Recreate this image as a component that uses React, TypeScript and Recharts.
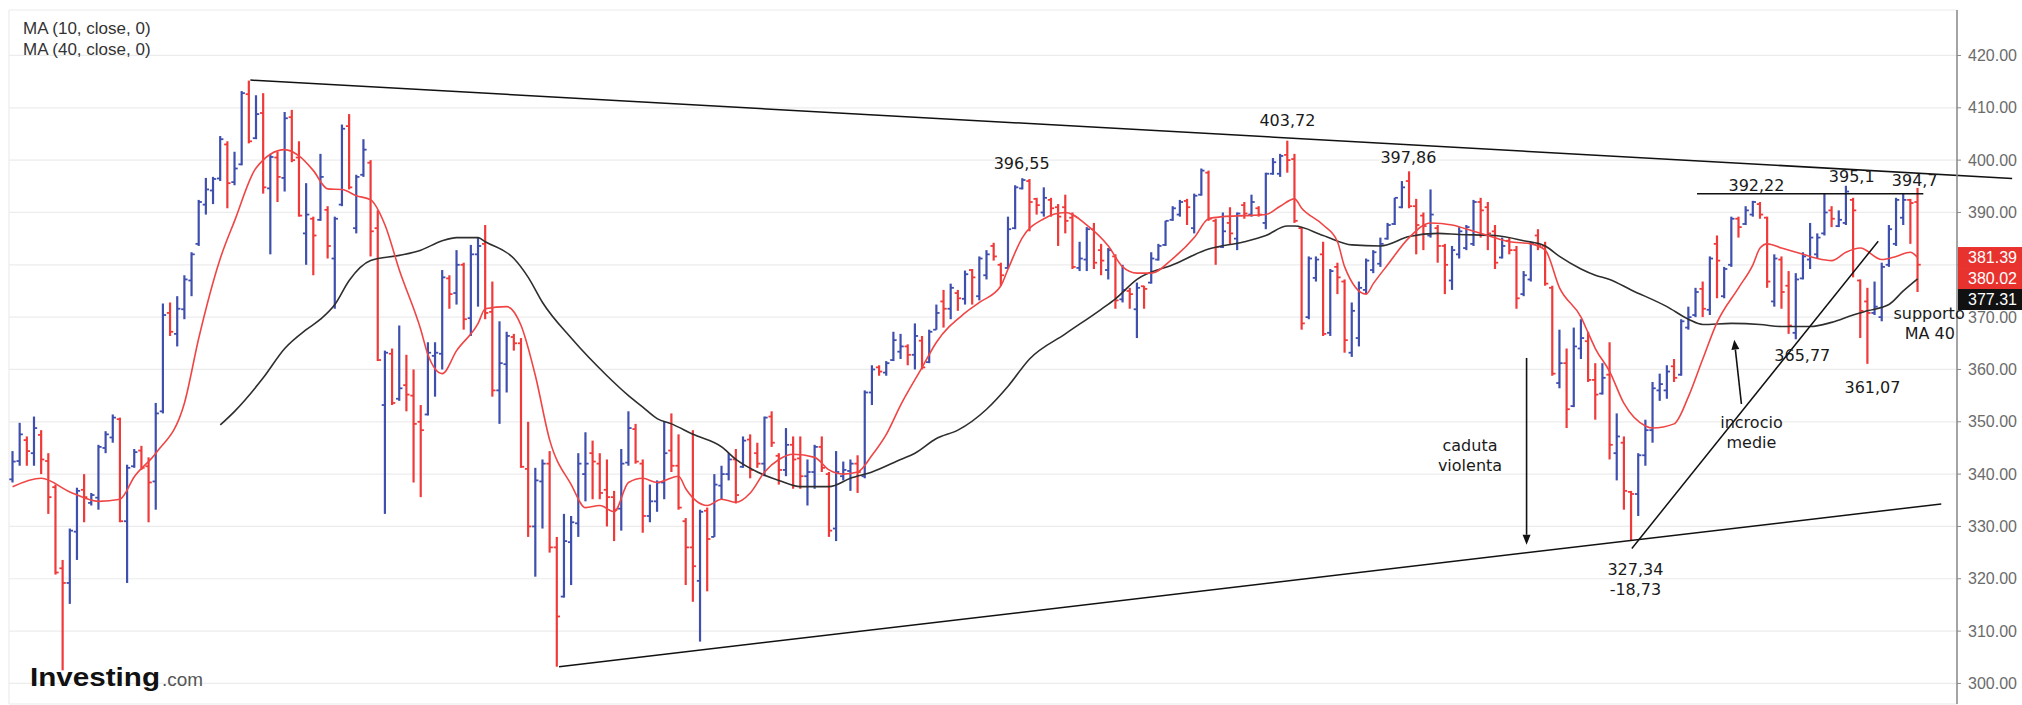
import React from 'react';
import { ComposedChart, Bar, Line, XAxis, YAxis, CartesianGrid, ReferenceLine, ReferenceDot } from 'recharts';

const opens = [
  339.0, 342.5, 346.5, 344.0, 347.5, 342.5, 337.5, 322.0, 319.2, 329.0,
  337.0, 334.5, 335.5, 345.0, 347.0, 350.5, 331.0, 341.5, 344.5, 341.5,
  338.6, 352.0, 370.8, 366.8, 371.5, 377.0, 384.0, 391.5, 394.2, 396.5,
  403.0, 395.8, 399.2, 412.6, 404.2, 409.0, 394.6, 400.5, 396.6, 408.2,
  400.5, 386.0, 388.8, 388.6, 390.5, 381.2, 391.5, 406.5, 387.0, 397.2,
  399.5, 387.0, 353.2, 363.0, 354.4, 357.0, 355.0, 350.0, 351.4, 362.6,
  363.0, 377.4, 374.6, 380.0, 369.8, 382.0, 384.0, 371.0, 356.0, 361.0,
  366.2, 365.0, 341.0, 330.0, 338.6, 342.0, 326.0, 316.6, 327.0, 330.6,
  340.0, 344.0, 342.0, 337.0, 335.6, 333.4, 342.2, 348.6, 342.0, 332.0,
  334.8, 338.4, 344.5, 341.6, 331.0, 326.0, 319.6, 333.0, 328.0, 337.8,
  340.0, 342.8, 341.4, 346.6, 344.0, 342.0, 351.0, 343.5, 340.8, 345.6,
  343.0, 339.6, 340.4, 345.2, 340.0, 329.6, 339.6, 340.6, 342.0, 339.6,
  355.6, 360.4, 359.4, 361.8, 363.4, 364.4, 362.8, 365.5, 361.4, 367.6,
  373.0, 371.6, 374.6, 373.5, 379.0, 374.0, 378.0, 383.6, 380.0, 379.4,
  387.0, 394.6, 396.0, 392.6, 390.0, 392.4, 391.0, 391.0, 389.0, 379.4,
  381.0, 386.8, 382.8, 379.0, 381.6, 373.4, 375.0, 371.5, 375.9, 376.6,
  381.0, 383.8, 388.6, 389.6, 392.2, 387.0, 393.4, 397.6, 388.4, 383.4,
  388.0, 385.0, 391.4, 389.6, 390.8, 388.0, 397.4, 397.4, 401.0, 400.2,
  387.0, 370.0, 377.5, 382.0, 367.0, 379.6, 376.8, 363.2, 366.0, 375.2,
  379.0, 380.2, 385.0, 387.8, 391.0, 396.0, 391.2, 389.4, 385.6, 387.0,
  383.6, 377.0, 382.0, 383.2, 384.0, 392.0, 391.0, 386.4, 381.4, 384.6,
  382.8, 374.4, 377.2, 385.6, 383.6, 375.6, 357.4, 361.2, 353.0, 364.0,
  365.4, 358.0, 355.4, 359.0, 344.0, 346.0, 336.6, 336.2, 343.6, 348.4,
  356.0, 356.0, 360.6, 359.0, 368.0, 370.4, 375.4, 371.4, 384.0, 374.0,
  380.0, 388.8, 387.8, 389.6, 391.6, 389.0, 373.0, 381.0, 376.0, 367.0,
  377.4, 381.0, 382.0, 386.0, 390.4, 387.4, 388.0, 392.4, 377.0, 373.0,
  370.8, 370.0, 380.0, 384.0, 389.0, 392.4, 392.0,
];

const highs = [
  344.4, 349.8, 347.2, 351.0, 348.4, 344.0, 338.0, 323.6, 329.6, 337.4,
  340.0, 336.4, 345.6, 348.2, 351.4, 350.8, 341.8, 344.8, 345.4, 343.2,
  353.6, 372.6, 372.8, 374.0, 378.0, 382.4, 392.4, 396.6, 396.8, 404.6,
  403.6, 401.6, 413.2, 415.2, 412.4, 412.8, 401.2, 401.6, 409.2, 409.6,
  403.6, 395.6, 389.2, 401.2, 391.2, 389.2, 406.8, 408.8, 397.2, 404.0,
  400.0, 390.4, 363.6, 364.0, 368.4, 362.8, 360.0, 353.2, 365.2, 365.2,
  379.0, 378.0, 382.8, 380.4, 383.8, 385.2, 387.6, 376.8, 369.2, 367.2,
  366.8, 366.0, 350.0, 341.2, 342.8, 344.4, 328.0, 332.4, 332.0, 344.0,
  348.0, 346.4, 344.0, 342.8, 336.8, 344.8, 352.0, 349.6, 342.8, 338.0,
  338.8, 350.0, 351.6, 347.6, 331.6, 348.4, 333.2, 333.6, 340.0, 341.6,
  344.0, 344.8, 347.2, 347.6, 346.0, 351.0, 352.0, 344.0, 348.8, 347.2,
  347.2, 342.8, 345.6, 347.2, 340.4, 344.4, 342.4, 342.8, 343.6, 356.0,
  360.8, 360.8, 361.6, 367.2, 366.8, 364.8, 368.8, 366.4, 367.6, 372.4,
  375.2, 376.4, 375.2, 378.9, 379.2, 381.6, 382.8, 384.2, 380.4, 389.2,
  395.2, 396.55, 396.4, 392.8, 394.8, 392.8, 391.6, 393.4, 390.0, 384.4,
  387.2, 388.0, 384.0, 383.2, 382.0, 380.0, 375.6, 376.6, 376.0, 382.4,
  384.0, 388.4, 391.2, 392.4, 392.6, 393.6, 398.4, 398.0, 388.8, 390.0,
  391.0, 390.0, 392.0, 393.4, 391.2, 397.6, 400.4, 401.2, 403.72, 401.2,
  387.2, 381.6, 381.6, 384.4, 379.2, 380.4, 377.2, 372.8, 376.8, 381.2,
  382.8, 385.2, 388.0, 392.8, 396.0, 397.86, 392.6, 390.0, 394.4, 387.6,
  384.0, 383.6, 387.2, 387.6, 392.4, 392.8, 392.0, 387.6, 385.2, 385.2,
  383.6, 378.8, 384.4, 386.8, 384.4, 376.0, 367.6, 364.0, 368.0, 369.6,
  367.2, 361.2, 361.2, 365.2, 351.6, 347.2, 336.8, 344.0, 350.4, 357.6,
  359.2, 360.8, 362.0, 369.6, 372.0, 375.6, 376.8, 381.6, 385.6, 379.6,
  389.2, 389.2, 391.2, 392.22, 392.0, 389.2, 382.0, 381.6, 378.8, 378.4,
  382.4, 388.0, 386.0, 393.6, 391.2, 390.4, 395.1, 392.8, 377.2, 375.6,
  376.8, 380.4, 387.6, 392.8, 393.6, 392.6, 394.7,
];

const lows = [
  338.4, 341.6, 341.6, 341.6, 340.0, 332.4, 320.8, 302.5, 315.2, 323.6,
  330.8, 334.0, 333.2, 344.0, 346.0, 330.8, 319.2, 341.2, 340.8, 330.8,
  333.2, 351.6, 366.4, 364.4, 369.6, 374.0, 383.6, 389.6, 391.6, 396.0,
  390.8, 395.2, 399.0, 403.2, 404.0, 393.6, 382.0, 392.0, 394.0, 399.6,
  389.2, 380.0, 378.0, 388.4, 381.2, 371.6, 391.2, 394.4, 386.0, 396.8,
  381.6, 361.6, 332.4, 353.2, 354.0, 352.0, 338.4, 335.6, 351.2, 354.8,
  360.0, 371.6, 372.4, 367.6, 366.4, 372.0, 369.6, 354.8, 349.6, 355.6,
  363.6, 341.2, 328.0, 320.4, 329.6, 325.0, 303.2, 316.4, 318.8, 328.0,
  334.8, 335.2, 335.2, 330.0, 327.2, 329.2, 341.6, 342.0, 328.8, 330.8,
  332.8, 335.2, 340.4, 333.2, 318.8, 315.6, 308.0, 317.6, 328.0, 335.2,
  338.8, 334.4, 341.2, 339.2, 341.2, 339.6, 345.2, 338.0, 339.6, 337.2,
  337.2, 334.0, 337.2, 340.4, 328.0, 327.2, 338.8, 336.8, 336.4, 339.2,
  353.2, 358.8, 358.8, 361.6, 362.0, 360.8, 360.0, 360.0, 361.2, 367.6,
  368.0, 369.6, 371.2, 372.4, 372.4, 373.2, 377.2, 380.8, 376.0, 379.2,
  386.8, 394.4, 386.4, 389.6, 389.2, 389.2, 383.6, 386.0, 379.2, 378.8,
  378.8, 379.2, 378.0, 377.2, 371.6, 372.8, 371.6, 366.0, 371.6, 376.4,
  380.8, 383.6, 388.4, 389.2, 387.6, 386.0, 393.2, 388.4, 380.0, 383.2,
  383.8, 382.8, 388.8, 389.2, 389.2, 386.8, 397.2, 396.8, 397.6, 388.0,
  367.6, 369.6, 376.8, 366.4, 366.4, 374.4, 363.2, 362.4, 364.4, 374.4,
  378.4, 379.6, 384.8, 387.6, 390.8, 390.8, 382.0, 382.8, 385.2, 380.4,
  374.4, 375.2, 381.2, 382.8, 383.6, 385.2, 382.8, 379.2, 381.2, 382.0,
  371.6, 374.0, 376.8, 382.8, 376.0, 358.8, 356.4, 348.8, 352.8, 362.0,
  357.6, 350.4, 355.2, 342.8, 338.8, 333.2, 327.34, 332.0, 341.6, 346.0,
  354.0, 354.4, 357.6, 358.8, 367.6, 370.0, 370.0, 370.4, 373.6, 373.6,
  379.6, 385.2, 387.6, 389.2, 388.8, 375.6, 372.0, 371.6, 366.8, 365.77,
  377.2, 379.2, 381.2, 385.6, 387.2, 387.2, 387.6, 377.6, 366.0, 361.07,
  370.4, 369.2, 379.6, 383.6, 387.6, 384.0, 374.8,
];

const closes = [
  342.4, 347.6, 344.4, 348.8, 342.8, 335.6, 321.2, 319.2, 329.2, 336.8,
  335.6, 336.0, 345.2, 347.6, 350.8, 331.0, 341.2, 344.2, 341.2, 338.4,
  351.6, 370.4, 367.2, 371.6, 377.2, 382.0, 392.0, 394.4, 396.4, 404.0,
  395.6, 398.4, 412.8, 403.6, 408.8, 394.8, 400.6, 396.8, 408.0, 400.0,
  389.4, 389.6, 385.6, 396.8, 383.6, 388.8, 406.0, 394.8, 396.8, 402.0,
  386.4, 361.8, 363.2, 353.6, 356.4, 355.2, 349.6, 348.4, 363.2, 363.2,
  377.6, 374.4, 380.0, 369.6, 382.0, 383.6, 370.8, 356.0, 361.2, 366.4,
  365.0, 341.4, 330.0, 338.8, 342.0, 326.0, 312.8, 327.2, 330.8, 342.0,
  342.0, 342.4, 336.4, 335.6, 333.2, 342.0, 348.8, 342.4, 332.0, 334.8,
  338.4, 344.0, 341.6, 333.6, 326.0, 322.4, 332.8, 327.6, 338.0, 340.0,
  342.8, 336.0, 346.4, 340.8, 342.0, 350.8, 346.0, 340.8, 345.6, 342.8,
  339.6, 340.4, 345.2, 341.2, 329.2, 340.4, 340.8, 342.0, 340.4, 355.6,
  360.0, 359.6, 361.2, 365.6, 364.4, 362.8, 366.4, 360.4, 367.2, 370.8,
  371.6, 375.6, 373.6, 378.2, 377.6, 381.2, 382.0, 381.6, 378.0, 386.8,
  394.8, 396.2, 392.0, 391.4, 392.8, 390.8, 389.2, 388.4, 379.6, 381.2,
  386.8, 380.4, 380.8, 382.8, 373.2, 375.2, 374.4, 375.6, 375.4, 381.2,
  383.6, 388.4, 390.8, 392.0, 391.0, 393.2, 398.0, 388.8, 383.4, 386.4,
  386.0, 389.8, 389.8, 392.0, 389.6, 397.4, 399.6, 400.8, 400.0, 388.4,
  368.8, 381.2, 381.0, 366.8, 378.8, 377.6, 365.6, 371.2, 375.6, 380.8,
  382.4, 384.0, 387.6, 392.8, 394.8, 391.2, 387.6, 387.4, 389.6, 383.6,
  380.0, 382.8, 386.4, 387.2, 392.0, 390.4, 386.0, 380.4, 383.6, 382.8,
  373.6, 378.0, 384.0, 383.6, 376.4, 359.2, 361.2, 352.4, 364.4, 366.0,
  358.0, 355.2, 358.4, 345.6, 347.2, 336.8, 336.2, 343.6, 348.4, 356.4,
  357.2, 359.6, 358.4, 369.2, 370.0, 374.8, 371.6, 381.2, 380.8, 379.2,
  388.8, 387.2, 390.4, 392.0, 389.6, 376.8, 381.2, 374.8, 368.4, 377.2,
  381.6, 385.2, 385.2, 390.0, 388.8, 388.6, 394.0, 390.4, 371.2, 370.8,
  372.0, 379.6, 386.8, 392.4, 392.4, 391.8, 380.02,
];

// MA(10) read at selected bars: [bar index, value]
const ma10Points: [number, number][] = [
  [0, 337.6], [4, 339.2], [8, 336.6], [12, 334.8], [15, 335.2], [17, 339.5], [20, 344], [24, 353.6],
  [26, 366], [29, 381.2], [31, 388.4], [34, 398.5], [38, 402], [40, 400.8], [42, 398], [44, 394.5],
  [46, 394.4], [48, 393.2], [50, 392.4], [52, 387.6], [54, 379], [57, 367.6], [58, 362.8], [60, 359.2],
  [62, 363.6], [65, 368.8], [66, 371.6], [69, 372], [71, 368.4], [73, 358.8], [75, 346.5], [78, 338],
  [80, 333.6], [82, 334], [84, 332.8], [86, 338.4], [88, 339.2], [90, 338.4], [93, 339.6], [94, 337.2],
  [97, 334], [99, 335.2], [101, 334.6], [103, 336.4], [105, 340.4], [107, 342.8], [109, 343.8], [112, 343.2],
  [114, 340.8], [116, 340], [118, 340.4], [120, 343.6], [122, 347.6], [124, 353.2], [127, 360.4], [129, 365.2],
  [133, 370.8], [135, 372.8], [138, 376], [139, 379.2], [141, 385.2], [144, 388.8], [147, 390], [150, 387.6],
  [153, 383.6], [155, 379.6], [157, 378.4], [159, 378.4], [162, 381.2], [165, 385.2], [167, 388.8], [169, 389.2],
  [172, 389.4], [175, 389.6], [177, 391.2], [179, 392.6], [180, 390.8], [183, 387.6], [185, 384.4], [186, 379.6],
  [189, 374.4], [190, 376.4], [192, 380], [195, 385.2], [198, 388], [201, 387.6], [204, 386.4], [206, 385.6],
  [209, 384.4], [212, 384], [214, 382.8], [216, 375.6], [219, 370], [220, 367], [221, 364], [223, 359.6],
  [225, 353.5], [228, 349.2], [229, 348.8], [232, 349.6], [234, 354.8], [236, 362], [238, 369], [241, 375.6],
  [243, 380], [244, 383.2], [245, 384], [247, 383.2], [250, 382], [252, 381.2], [254, 380.8], [256, 382.4],
  [258, 383.2], [261, 381], [263, 381.6], [265, 382.4], [266, 381.39],
];

// MA(40) read at selected bars: [bar index, value]
const ma40Points: [number, number][] = [
  [29, 349.4], [31, 352], [35, 358.4], [38, 364], [41, 367.6], [43, 369.6], [45, 372.4], [47, 377],
  [50, 380.8], [54, 381.8], [57, 382.8], [60, 384.6], [62, 385.2], [65, 385.2], [66, 384.4], [70, 381.2],
  [72, 377.6], [74, 372.8], [78, 366], [83, 358.8], [86, 355], [88, 352.8], [90, 350.6], [92, 349.6],
  [95, 347.6], [99, 345.2], [101, 342.8], [104, 340.4], [107, 338.8], [110, 337.6], [114, 337.6], [117, 339.2],
  [120, 340.4], [124, 342.8], [126, 344], [129, 346.8], [132, 348.4], [136, 352.4], [139, 356.8], [142, 362],
  [147, 366.8], [152, 371.5], [154, 373.5], [157, 377.2], [162, 380], [167, 383], [172, 384.4], [175, 385.6],
  [178, 387.4], [179, 387.4], [183, 385.6], [187, 383.8], [191, 383.6], [195, 385.4], [199, 386], [202, 385.8],
  [207, 385.6], [211, 384.6], [214, 383.6], [216, 381.6], [219, 379.2], [221, 378], [223, 377.2], [226, 375.2],
  [231, 372], [234, 369.6], [236, 368.6], [240, 368.8], [244, 368.6], [247, 368.2], [251, 368.2], [254, 369],
  [257, 370.4], [259, 371.2], [262, 372.4], [264, 375], [266, 377.31],
];

const yTicks = [300, 310, 320, 330, 340, 350, 360, 370, 380, 390, 400, 410, 420];
const gridX = [19.2, 35.9, 54.1, 71.1, 88.3, 106.2, 123.4, 140.4, 158.3, 175.3, 193.3, 210.2, 228.5, 245.6, 262.4];

const lastPrices = [381.39, 380.02, 377.31];
const lastColors = ['#e8322e', '#e8322e', '#111111'];

// trend lines: [x1, y1, x2, y2] in bar index / price
const trendLines: [number, number, number, number][] = [
  [33.2, 415.3, 279.2, 396.5],
  [76.3, 303.2, 269.3, 334.3],
  [226.1, 325.8, 260.5, 384.5],
  [235.2, 393.6, 266.8, 393.6],
];
const arrows: [number, number, number, number][] = [
  [211.4, 362.2, 211.4, 326.5],
  [241.4, 353.4, 240.4, 365.7],
];
const notes: [string, number, number][] = [
  ['396,55', 140.9, 399.4],
  ['403,72', 178.0, 407.6],
  ['397,86', 194.9, 400.5],
  ['392,22', 243.5, 395.2],
  ['395,1', 256.8, 396.8],
  ['394,7', 265.6, 396.2],
  ['365,77', 249.9, 362.6],
  ['361,07', 259.7, 356.6],
  ['327,34', 226.6, 321.8],
  ['-18,73', 226.6, 317.9],
  ['incrocio', 242.8, 349.9],
  ['medie', 242.8, 346.1],
  ['supporto', 267.6, 370.6],
  ['MA 40', 267.7, 366.9],
  ['caduta', 203.5, 345.4],
  ['violenta', 203.5, 341.6],
];

const BLUE = '#3f4fae';
const RED = '#f03a3a';

const ma10Map = new Map(ma10Points);
const ma40Map = new Map(ma40Points);

const data = opens.map((o, i) => ({
  i,
  o,
  h: highs[i],
  l: lows[i],
  c: closes[i],
  range: [lows[i], highs[i]],
  ma10: ma10Map.has(i) ? ma10Map.get(i) : null,
  ma40: ma40Map.has(i) ? ma40Map.get(i) : null,
}));

const OhlcShape = (props: any) => {
  const { x, y, width, height, payload } = props;
  if (!payload || x == null || y == null) return null;
  const { o, h, l, c } = payload;
  const top = Math.min(y, y + height);
  const bot = Math.max(y, y + height);
  const cx = x + width / 2;
  const span = h - l || 1;
  const py = (v: number) => top + ((h - v) / span) * (bot - top);
  const col = c >= o ? BLUE : RED;
  return (
    <g>
      <line x1={cx} x2={cx} y1={top} y2={bot} stroke={col} strokeWidth={2.2} />
      <line x1={cx - 3.2} x2={cx} y1={py(o)} y2={py(o)} stroke={col} strokeWidth={1.8} />
      <line x1={cx} x2={cx + 3.2} y1={py(c)} y2={py(c)} stroke={col} strokeWidth={1.8} />
    </g>
  );
};

const ArrowShape = (p: any) => {
  const { x1, y1, x2, y2 } = p;
  if ([x1, y1, x2, y2].some((v) => v == null || Number.isNaN(v))) return null;
  const ang = Math.atan2(y2 - y1, x2 - x1);
  const L = 10;
  const W = 4;
  const bx = x2 - L * Math.cos(ang);
  const by = y2 - L * Math.sin(ang);
  const px = -Math.sin(ang) * W;
  const pyy = Math.cos(ang) * W;
  return (
    <g>
      <line x1={x1} y1={y1} x2={bx} y2={by} stroke="#111" strokeWidth={1.6} />
      <polygon points={`${x2},${y2} ${bx + px},${by + pyy} ${bx - px},${by - pyy}`} fill="#111" />
    </g>
  );
};

const makeNote = (text: string) => (p: any) => (
  <text
    x={p.cx}
    y={p.cy}
    textAnchor="middle"
    dominantBaseline="central"
    fontFamily="DejaVu Sans, Verdana, sans-serif"
    fontSize={16}
    fill="#1a1a1a"
  >
    {text}
  </text>
);

const YTick = (p: any) => {
  const v = p.payload ? p.payload.value : null;
  if (v == null) return null;
  // the last-price boxes sit on top of this label in the reference
  if (Math.abs(v - lastPrices[0]) < 3) return null;
  return (
    <text
      x={p.x}
      y={p.y}
      dy="0.355em"
      textAnchor="start"
      fill="#6b6b6b"
      fontSize={16}
      fontFamily="Liberation Sans, Arial, sans-serif"
    >
      {Number(v).toFixed(2)}
    </text>
  );
};

const PriceBoxes = (p: any) => {
  const { cx, cy } = p;
  if (cx == null || cy == null) return null;
  return (
    <g>
      {lastPrices.map((v, k) => (
        <g key={k}>
          <rect x={cx + 1} y={cy - 10.5 + k * 21} width={66} height={21} fill={lastColors[k]} />
          <text
            x={cx + 11}
            y={cy + k * 21}
            dominantBaseline="central"
            fontFamily="Liberation Sans, Arial, sans-serif"
            fontSize={16}
            fill="#ffffff"
          >
            {v.toFixed(2)}
          </text>
        </g>
      ))}
    </g>
  );
};

export default function App() {
  return (
    <div style={{ position: 'absolute', left: 0, top: 0, width: 2022, height: 705, background: '#fff' }}>
      <ComposedChart
        width={2022}
        height={705}
        data={data}
        margin={{ top: 10, right: 0, bottom: 0, left: 9 }}
      >
        <CartesianGrid stroke="#ececec" strokeWidth={1.2} />
        <XAxis
          type="number"
          dataKey="i"
          domain={[-0.5, 271.5]}
          ticks={gridX}
          interval={0}
          allowDataOverflow
          tick={false}
          tickLine={false}
          axisLine={false}
          height={1}
        />
        <YAxis
          orientation="right"
          type="number"
          domain={[296.07, 428.69]}
          ticks={yTicks}
          interval={0}
          allowDataOverflow
          width={65}
          tickSize={4}
          tickMargin={7}
          tick={(p: any) => <YTick {...p} />}
          axisLine={{ stroke: '#8a8a8a', strokeWidth: 1.5 }}
          tickLine={{ stroke: '#8a8a8a' }}
        />
        <Bar dataKey="range" barSize={7} isAnimationActive={false} shape={(p: any) => <OhlcShape {...p} />} />
        <Line
          type="monotone"
          dataKey="ma40"
          stroke="#2e2e2e"
          strokeWidth={1.6}
          dot={false}
          connectNulls
          isAnimationActive={false}
        />
        <Line
          type="monotone"
          dataKey="ma10"
          stroke="#f04545"
          strokeWidth={1.6}
          dot={false}
          connectNulls
          isAnimationActive={false}
        />
        {trendLines.map((t, k) => (
          <ReferenceLine
            key={`t${k}`}
            segment={[{ x: t[0], y: t[1] }, { x: t[2], y: t[3] }]}
            stroke="#111"
            strokeWidth={1.5}
            ifOverflow="visible"
          />
        ))}
        {arrows.map((a, k) => (
          <ReferenceLine
            key={`a${k}`}
            segment={[{ x: a[0], y: a[1] }, { x: a[2], y: a[3] }]}
            ifOverflow="visible"
            shape={(p: any) => <ArrowShape {...p} />}
          />
        ))}
        {notes.map((n, k) => (
          <ReferenceDot key={`n${k}`} x={n[1]} y={n[2]} r={0} ifOverflow="visible" shape={makeNote(n[0])} />
        ))}
        <ReferenceDot x={271.5} y={lastPrices[0]} r={0} ifOverflow="visible" shape={(p: any) => <PriceBoxes {...p} />} />
      </ComposedChart>
      <svg
        width={2022}
        height={705}
        style={{ position: 'absolute', left: 0, top: 0, pointerEvents: 'none' }}
      >
        <text x={23} y={34} fontFamily="Liberation Sans, Arial, sans-serif" fontSize={17} fill="#333">
          MA (10, close, 0)
        </text>
        <text x={23} y={55} fontFamily="Liberation Sans, Arial, sans-serif" fontSize={17} fill="#333">
          MA (40, close, 0)
        </text>
        <text
          x={30}
          y={686}
          fontFamily="Liberation Sans, Arial, sans-serif"
          fontWeight="bold"
          fontSize={26}
          fill="#111"
          textLength={130}
          lengthAdjust="spacingAndGlyphs"
        >
          Investing
        </text>
        <text
          x={162}
          y={686}
          fontFamily="Liberation Sans, Arial, sans-serif"
          fontSize={19}
          fill="#555"
          textLength={41}
          lengthAdjust="spacingAndGlyphs"
        >
          .com
        </text>
      </svg>
    </div>
  );
}
